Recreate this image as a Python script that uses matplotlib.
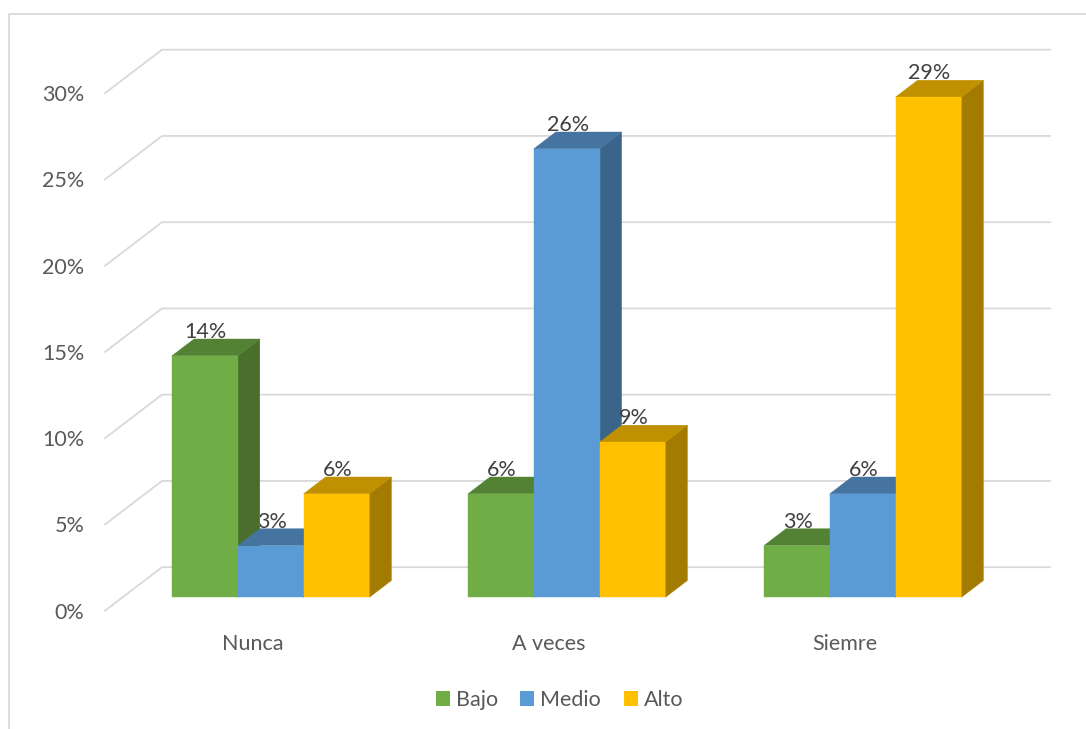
import matplotlib
matplotlib.use("Agg")
import matplotlib.pyplot as plt
from matplotlib.lines import Line2D
from matplotlib.patches import Polygon, Patch
from matplotlib.transforms import Bbox, TransformedBbox

categories = ["Nunca", "A veces", "Siemre"]
bajo = [14, 6, 3]
medio = [3, 26, 6]
alto = [6, 9, 29]
series_names = ["Bajo", "Medio", "Alto"]
y_ticks = [0, 5, 10, 15, 20, 25, 30]

W, H, DPI = 1086, 729, 100
FONT = "Lato"
FS = 15.5
PX_X = 296.0      # pixels per category
PX_Y = 17.25      # pixels per percent
fig = plt.figure(figsize=(W / DPI, H / DPI), dpi=DPI, facecolor="white")
L, R, B, T = 105, 993, 610.7, 93.2
ax = fig.add_axes([L / W, 1 - B / H, (R - L) / W, (B - T) / H])
ax.set_xlim(-0.5, 2.5)
ax.set_ylim(0, 30)
ax.patch.set_visible(False)
for s in ax.spines.values():
    s.set_visible(False)

GRID = "#D9D9D9"
TXT = "#595959"
LBL = "#404040"

# wall gridlines
wx, wy = 57 / PX_X, 43.5 / PX_Y
for v in y_ticks:
    ax.plot([-0.5, -0.5 + wx, 2.5 + wx], [v, v + wy, v + wy], color=GRID,
            lw=1.3, clip_on=False, zorder=1, solid_joinstyle="miter")

# bars
ox, oy = 17.7 / PX_X, 13.4 / PX_Y      # bar front plane
dx, dy = 22 / PX_X, 16.8 / PX_Y        # bar depth
bw = 65.8 / PX_X
colors = [("#70AD47", "#548235", "#4A6E2B"),
          ("#5B9BD5", "#44749F", "#3A6489"),
          ("#FFC000", "#BF9000", "#A37B00")]
z = 2
labels_to_draw = []
for c in range(len(categories)):
    for i, vals in enumerate([bajo, medio, alto]):
        v = vals[c]
        x0 = c + ox + (i - 1.5) * bw
        x1 = x0 + bw
        base = oy
        top = v + oy
        front, tcol, scol = colors[i]
        ax.add_patch(Polygon([(x1, base), (x1 + dx, base + dy), (x1 + dx, top + dy), (x1, top)],
                             fc=scol, ec=scol, lw=0.3, clip_on=False, zorder=z))
        ax.add_patch(Polygon([(x0, top), (x1, top), (x1 + dx, top + dy), (x0 + dx, top + dy)],
                             fc=tcol, ec=tcol, lw=0.3, clip_on=False, zorder=z))
        ax.bar(x0, v, bw, bottom=base, align="edge", color=front, edgecolor=front,
               lw=0.3, clip_on=False, zorder=z + 0.5)
        z += 1
        labels_to_draw.append((x0 + bw / 2 + 1 / PX_X, top + 24 / PX_Y, v, c, i))

for xc, yc, v, c, i in labels_to_draw:
    t = ax.text(xc, yc, f"{v}%", ha="center", va="center", color=LBL,
                fontsize=FS, family=FONT, zorder=100, clip_on=False)
    if c == 0 and i == 1:
        # the neighbouring taller bar hides the start of this label
        xl = c + ox + (0 - 1.5) * bw + bw + dx
        t.set_clip_box(TransformedBbox(Bbox([[xl, 0], [3, 40]]), ax.transData))
        t.set_clip_on(True)

# axes text
ax.set_xticks(range(len(categories)))
ax.set_xticklabels(categories, family=FONT, fontsize=FS, color=TXT)
ax.set_yticks(y_ticks)
ax.set_yticklabels([f"{v}%" for v in y_ticks], family=FONT, fontsize=FS, color=TXT)
ax.tick_params(axis="x", length=0, pad=16.5)
ax.tick_params(axis="y", length=0, pad=15)

# legend
handles = [Patch(fc=colors[i][0], ec="none", label=series_names[i]) for i in range(3)]
leg = fig.legend(handles=handles, loc="center", bbox_to_anchor=(559.5 / W, 1 - 700 / H),
                 ncol=3, frameon=False, handlelength=0.65, handleheight=0.65,
                 handletextpad=0.28, columnspacing=1.05,
                 prop={"family": FONT, "size": FS}, labelcolor=TXT,
                 borderpad=0, borderaxespad=0)

# chart frame
fig.add_artist(Line2D([9 / W, 9 / W, 1], [0, 1 - 14 / H, 1 - 14 / H],
                      color=GRID, lw=1.3, transform=fig.transFigure))

fig.savefig("out.png", dpi=DPI, facecolor="white")
